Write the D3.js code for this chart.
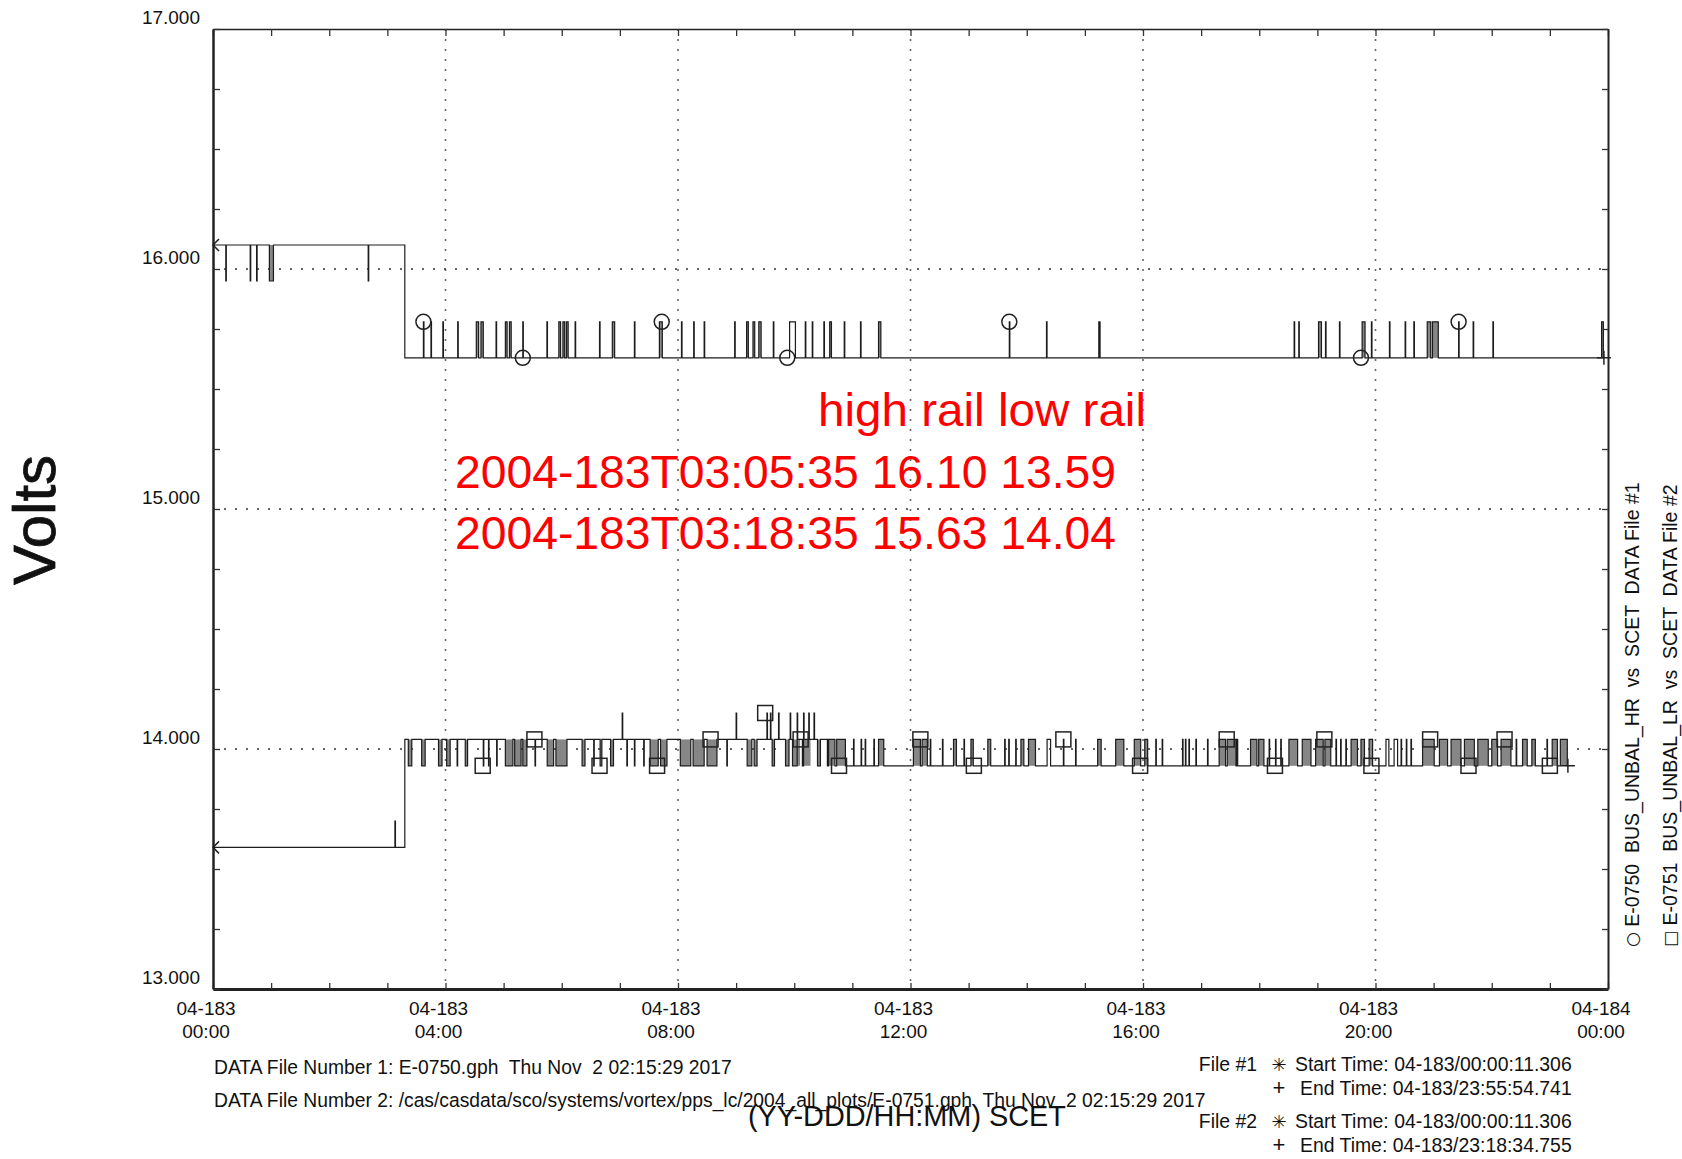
<!DOCTYPE html>
<html><head><meta charset="utf-8">
<script src="https://cdn.jsdelivr.net/npm/d3@7"></script>
<style>
html,body{margin:0;padding:0;background:#fff;}
svg{display:block;}
text{font-family:"Liberation Sans", Arial, Helvetica, sans-serif;fill:#111;}
</style></head><body>
<svg id="c" width="1682" height="1159"></svg>
<script>
// ---------------- DATA ----------------
const xTickHours = [0, 4, 8, 12, 16, 20, 24];
const xTickDays = ["04-183", "04-183", "04-183", "04-183", "04-183", "04-183", "04-184"];
const xTickTimes = ["00:00", "04:00", "08:00", "12:00", "16:00", "20:00", "00:00"];
const yTickValues = [13, 14, 15, 16, 17];
const yTickLabels = ["13.000", "14.000", "15.000", "16.000", "17.000"];
const yGridValues = [14, 15, 16];

// High rail (E-0750 BUS_UNBAL_HR): base levels [hour, volts]
const hrLevels = [[0, 16.10], [3.30, 15.63]];
const hrEnd = 23.93;
const hrDipValue = 15.95;
const hrDipsThin = [0.22, 0.64, 0.75, 2.67];
const hrDipsDense = [[0.97, 1.04]];
const hrSpikeValue = 15.78;
const hrSpikesThin = [3.62, 3.75, 3.955, 4.21, 4.87, 5.33, 5.745, 6.23, 6.65, 7.25, 8.06, 8.27, 8.45, 8.975,
  9.64, 10.19, 10.31, 10.51, 10.86, 11.14, 13.70, 14.34, 15.25, 18.60, 18.68, 19.14, 19.38, 19.93,
  20.24, 20.51, 20.66, 21.43, 21.68, 22.02];
const hrSpikesDense = [[4.53, 4.57], [4.61, 4.65], [5.03, 5.06], [5.10, 5.13], [5.95, 5.98], [6.02, 6.05],
  [6.08, 6.11], [6.87, 6.91], [7.68, 7.73], [9.18, 9.21], [9.29, 9.32], [9.39, 9.43], [10.61, 10.64],
  [11.45, 11.49], [15.24, 15.27], [19.02, 19.07], [19.77, 19.82], [20.89, 20.95], [20.98, 21.08], [23.89, 23.92]];
const hrSpikesOpen = [[9.92, 10.02]];
const hrCircles = [[3.62, 15.78], [5.33, 15.63], [7.72, 15.78], [9.88, 15.63], [13.70, 15.78], [19.75, 15.63], [21.43, 15.78]];

// Low rail (E-0751 BUS_UNBAL_LR)
const lrLevels = [[0, 13.59], [3.30, 14.04], [10.57, 13.93]];
const lrEnd = 23.31;
const lrPreSpikeValue = 13.70;
const lrPreSpikes = [3.13];
const lrDipValue = 13.93;
const lrDipsThin = [4.20, 4.65, 4.74, 4.88, 5.54, 6.55, 7.12, 7.25, 7.41, 8.84];
const lrDipsDense = [[3.36, 3.42], [3.59, 3.65], [3.88, 3.94], [4.02, 4.08], [4.34, 4.38], [5.03, 5.16],
  [5.19, 5.30], [5.33, 5.40], [5.75, 5.86], [5.90, 6.09], [6.35, 6.40], [6.66, 6.69], [6.84, 6.89],
  [7.52, 7.66], [7.70, 7.81], [8.04, 8.22], [8.26, 8.45], [8.50, 8.67], [9.19, 9.27], [9.31, 9.36],
  [9.62, 9.66], [9.85, 9.91], [9.97, 10.10], [10.14, 10.28], [10.40, 10.45]];
const lrHighSpikeValue = 14.15;
const lrHighSpikes = [7.04, 9.00, 9.53, 9.59, 9.73, 9.93, 10.05, 10.16, 10.25, 10.34];
const lrUpValue = 14.04;
const lrUpThin = [11.02, 11.15, 11.22, 11.37, 12.34, 12.55, 12.92, 13.62, 13.69, 13.81, 14.63, 14.84,
  16.22, 16.33, 16.68, 16.73, 16.79, 16.91, 17.11, 17.62, 18.17, 18.28, 18.37, 19.32, 19.40, 19.49,
  20.44, 20.53, 20.61, 22.42, 22.95];
const lrUpOpen = [[14.35, 14.41], [20.18, 20.23], [20.32, 20.38]];
const lrUpDense = [[10.59, 10.70], [10.73, 10.88], [11.45, 11.54], [12.05, 12.17], [12.20, 12.29], [12.74, 12.79],
  [13.04, 13.08], [13.33, 13.38], [13.90, 13.95], [14.03, 14.15], [15.22, 15.28], [15.53, 15.67],
  [15.85, 15.96], [16.03, 16.08], [17.31, 17.42], [17.45, 17.60], [17.85, 17.96], [17.99, 18.08],
  [18.51, 18.66], [18.74, 18.89], [18.97, 19.10], [19.13, 19.23], [19.58, 19.69], [19.75, 19.81],
  [19.89, 19.95], [20.81, 21.01], [21.10, 21.24], [21.30, 21.47], [21.53, 21.70], [21.76, 21.94],
  [22.00, 22.10], [22.16, 22.33], [22.53, 22.61], [22.69, 22.75], [23.04, 23.13], [23.18, 23.30]];
const lrSquares = [[4.64, 13.93], [5.53, 14.04], [6.65, 13.93], [7.64, 13.93], [8.56, 14.04], [9.50, 14.15],
  [10.11, 14.04], [10.77, 13.93], [12.17, 14.04], [13.09, 13.93], [14.63, 14.04], [15.95, 13.93],
  [17.44, 14.04], [18.27, 13.93], [19.12, 14.04], [19.93, 13.93], [20.94, 14.04], [21.60, 13.93],
  [22.22, 14.04], [23.00, 13.93]];

const annotLines = ["high rail low rail", "2004-183T03:05:35 16.10 13.59", "2004-183T03:18:35 15.63 14.04"];
const legendSymbols = ["\u25CB", "\u25A1"];
const legendLines = ["E-0750  BUS_UNBAL_HR  vs  SCET  DATA File #1",
                     "E-0751  BUS_UNBAL_LR  vs  SCET  DATA File #2"];
const fileLines = ["DATA File Number 1: E-0750.gph  Thu Nov  2 02:15:29 2017",
  "DATA File Number 2: /cas/casdata/sco/systems/vortex/pps_lc/2004_all_plots/E-0751.gph  Thu Nov  2 02:15:29 2017"];
const timeBlocks = [
  { file: "File #1", start: "Start Time: 04-183/00:00:11.306", end: "End Time: 04-183/23:55:54.741" },
  { file: "File #2", start: "Start Time: 04-183/00:00:11.306", end: "End Time: 04-183/23:18:34.755" }];

// ---------------- DRAW ----------------
const svg = d3.select("#c");
const x = d3.scaleLinear().domain([0, 24]).range([213, 1608]);
const y = d3.scaleLinear().domain([13, 17]).range([989, 29]);
const THIN = 0.009;

// grid
const grid = svg.append("g");
grid.selectAll("line.gx").data(xTickHours.slice(1, -1)).join("line").attr("class", "gx")
  .attr("x1", d => x(d)).attr("x2", d => x(d)).attr("y1", y(17)).attr("y2", y(13))
  .attr("stroke", "#666").attr("stroke-width", 1.6).attr("stroke-dasharray", "2,8");
grid.selectAll("line.gy").data(yGridValues).join("line").attr("class", "gy")
  .attr("x1", x(0)).attr("x2", x(24)).attr("y1", d => y(d)).attr("y2", d => y(d))
  .attr("stroke", "#333").attr("stroke-width", 1.4).attr("stroke-dasharray", "2,9");

// axes (ticks pointing inward)
function styleAxis(g, w) {
  g.select(".domain").attr("stroke", "#222").attr("stroke-width", w);
  g.selectAll(".tick line").attr("stroke", "#333").attr("stroke-width", 1.3);
}
const hourTicks = x.ticks(24);
const voltTicks = d3.range(13, 17.001, 0.25);
svg.append("g").attr("transform", `translate(0,${y(13)})`)
  .call(d3.axisBottom(x).tickValues(hourTicks).tickSize(-6).tickSizeOuter(0).tickFormat(""))
  .call(g => styleAxis(g, 3));
svg.append("g").attr("transform", `translate(0,${y(17)})`)
  .call(d3.axisTop(x).tickValues(hourTicks).tickSize(-7).tickSizeOuter(0).tickFormat(""))
  .call(g => styleAxis(g, 1.5));
svg.append("g").attr("transform", `translate(${x(0)},0)`)
  .call(d3.axisLeft(y).tickValues(voltTicks).tickSize(-7).tickSizeOuter(0).tickFormat(""))
  .call(g => styleAxis(g, 2.5));
svg.append("g").attr("transform", `translate(${x(24)},0)`)
  .call(d3.axisRight(y).tickValues(voltTicks).tickSize(-6).tickSizeOuter(0).tickFormat(""))
  .call(g => styleAxis(g, 2));

// tick labels
svg.append("g").selectAll("text").data(yTickValues).join("text")
  .attr("x", 200).attr("y", d => y(d) - 5).attr("text-anchor", "end")
  .attr("font-size", 19).text((d, i) => yTickLabels[i]);
const xl = svg.append("g").selectAll("g").data(xTickHours).join("g")
  .attr("transform", d => `translate(${x(d) - 7},0)`);
xl.append("text").attr("y", 1015).attr("text-anchor", "middle").attr("font-size", 19).text((d, i) => xTickDays[i]);
xl.append("text").attr("y", 1038).attr("text-anchor", "middle").attr("font-size", 19).text((d, i) => xTickTimes[i]);

// Y title
svg.append("text").attr("transform", "translate(34,520) rotate(-90)")
  .attr("text-anchor", "middle").attr("dominant-baseline", "central")
  .attr("font-size", 60).style("stroke", "#111").style("stroke-width", 0.8).text("Volts");

// series construction
function buildSeries(levels, end, pulses) {
  const baseAt = t => { let b = levels[0][1]; levels.forEach(l => { if (t >= l[0]) b = l[1]; }); return b; };
  const pts = levels.map(l => [l[0], l[1]]);
  pulses.forEach(p => { pts.push([p[0], p[2]]); pts.push([p[1], baseAt(p[1])]); });
  pts.sort((a, b) => a[0] - b[0]);
  pts.push([end, baseAt(end)]);
  return { pts, baseAt };
}
const hrPulses = [
  ...hrDipsThin.map(t => [t, t + THIN, hrDipValue]),
  ...hrDipsDense.map(d => [d[0], d[1], hrDipValue]),
  ...hrSpikesThin.map(t => [t, t + THIN, hrSpikeValue]),
  ...hrSpikesDense.map(d => [d[0], d[1], hrSpikeValue]),
  ...hrSpikesOpen.map(d => [d[0], d[1], hrSpikeValue])];
const lrPulses = [
  ...lrPreSpikes.map(t => [t, t + THIN, lrPreSpikeValue]),
  ...lrDipsThin.map(t => [t, t + THIN, lrDipValue]),
  ...lrDipsDense.map(d => [d[0], d[1], lrDipValue]),
  ...lrHighSpikes.map(t => [t, t + THIN, lrHighSpikeValue]),
  ...lrUpThin.map(t => [t, t + THIN, lrUpValue]),
  ...lrUpOpen.map(d => [d[0], d[1], lrUpValue]),
  ...lrUpDense.map(d => [d[0], d[1], lrUpValue])];
const hr = buildSeries(hrLevels, hrEnd, hrPulses);
const lr = buildSeries(lrLevels, lrEnd, lrPulses);

// dense (overplotted) blocks shown as gray fill
const dense = [
  ...hrDipsDense.map(d => ({ a: d[0], b: d[1], v: hrDipValue, base: hr.baseAt(d[0]) })),
  ...hrSpikesDense.map(d => ({ a: d[0], b: d[1], v: hrSpikeValue, base: hr.baseAt(d[0]) })),
  ...lrDipsDense.map(d => ({ a: d[0], b: d[1], v: lrDipValue, base: lr.baseAt(d[0]) })),
  ...lrUpDense.map(d => ({ a: d[0], b: d[1], v: lrUpValue, base: lr.baseAt(d[0]) }))];
svg.append("g").selectAll("rect").data(dense).join("rect")
  .attr("x", d => x(d.a)).attr("width", d => x(d.b) - x(d.a))
  .attr("y", d => Math.min(y(d.v), y(d.base))).attr("height", d => Math.abs(y(d.v) - y(d.base)))
  .attr("fill", "#868686");

const line = d3.line().x(d => x(d[0])).y(d => y(d[1])).curve(d3.curveStepAfter);
[hr, lr].forEach(s => {
  svg.append("path").attr("d", line(s.pts)).attr("fill", "none")
    .attr("stroke", "#1c1c1c").attr("stroke-width", 1.2);
});

// markers
const mk = svg.append("g").attr("fill", "none").attr("stroke", "#222").attr("stroke-width", 1.5);
mk.selectAll("circle").data(hrCircles).join("circle")
  .attr("cx", d => x(d[0])).attr("cy", d => y(d[1])).attr("r", 7.5);
mk.selectAll("rect").data(lrSquares).join("rect")
  .attr("x", d => x(d[0]) - 7.5).attr("y", d => y(d[1]) - 7.5).attr("width", 15).attr("height", 15);
// start markers (<) and end markers (+)
const starts = [[0, hrLevels[0][1]], [0, lrLevels[0][1]]];
mk.selectAll("path.st").data(starts).join("path").attr("class", "st")
  .attr("d", d => `M${x(d[0]) + 6},${y(d[1]) - 6}L${x(d[0])},${y(d[1])}L${x(d[0]) + 6},${y(d[1]) + 6}`);
const ends = [[hrEnd, hr.baseAt(hrEnd)], [lrEnd, lr.baseAt(lrEnd)]];
mk.selectAll("path.en").data(ends).join("path").attr("class", "en")
  .attr("d", d => `M${x(d[0]) - 7},${y(d[1])}H${x(d[0]) + 7}M${x(d[0])},${y(d[1]) - 7}V${y(d[1]) + 7}`);

// red annotation
const ann = svg.append("g").style("font-family", "'Open Sans', 'Noto Sans', sans-serif")
  .attr("font-size", 46);
ann.append("text").attr("x", 818).attr("y", 426).attr("textLength", 328).attr("lengthAdjust", "spacingAndGlyphs")
  .style("fill", "#ff0000").text(annotLines[0]);
ann.append("text").attr("x", 455).attr("y", 488).attr("textLength", 661).attr("lengthAdjust", "spacingAndGlyphs")
  .style("fill", "#ff0000").text(annotLines[1]);
ann.append("text").attr("x", 455).attr("y", 549).attr("textLength", 661).attr("lengthAdjust", "spacingAndGlyphs")
  .style("fill", "#ff0000").text(annotLines[2]);

// right-side legend (vertical)
[1632, 1670].forEach((cx, i) => {
  const t = svg.append("text").attr("transform", `translate(${cx},947) rotate(-90)`)
    .attr("dominant-baseline", "central").attr("font-size", 19.5).style("white-space", "pre");
  t.append("tspan").style("font-family", "'DejaVu Sans'").attr("font-size", 17).text(legendSymbols[i]);
  t.append("tspan").text(" " + legendLines[i]);
});

// bottom info
svg.append("text").attr("x", 214).attr("y", 1074).attr("font-size", 19.3).style("white-space", "pre").text(fileLines[0]);
svg.append("text").attr("x", 214).attr("y", 1107).attr("font-size", 19.3).style("white-space", "pre").text(fileLines[1]);
svg.append("text").attr("x", 907).attr("y", 1126).attr("text-anchor", "middle").attr("font-size", 30)
  .attr("textLength", 318).attr("lengthAdjust", "spacingAndGlyphs")
  .text("(YY-DDD/HH:MM) SCET");
timeBlocks.forEach((b, i) => {
  const y0 = 1071 + i * 57;
  svg.append("text").attr("x", 1257).attr("y", y0).attr("text-anchor", "end").attr("font-size", 19.4).text(b.file);
  svg.append("text").attr("x", 1279).attr("y", y0).attr("text-anchor", "middle").attr("font-size", 18)
    .style("font-family", "'DejaVu Sans'").text("\u2733");
  svg.append("text").attr("x", 1295).attr("y", y0).attr("font-size", 19.4).text(b.start);
  svg.append("text").attr("x", 1279).attr("y", y0 + 24).attr("text-anchor", "middle").attr("font-size", 22).text("+");
  svg.append("text").attr("x", 1300).attr("y", y0 + 24).attr("font-size", 19.4).text(b.end);
});
</script></body></html>
